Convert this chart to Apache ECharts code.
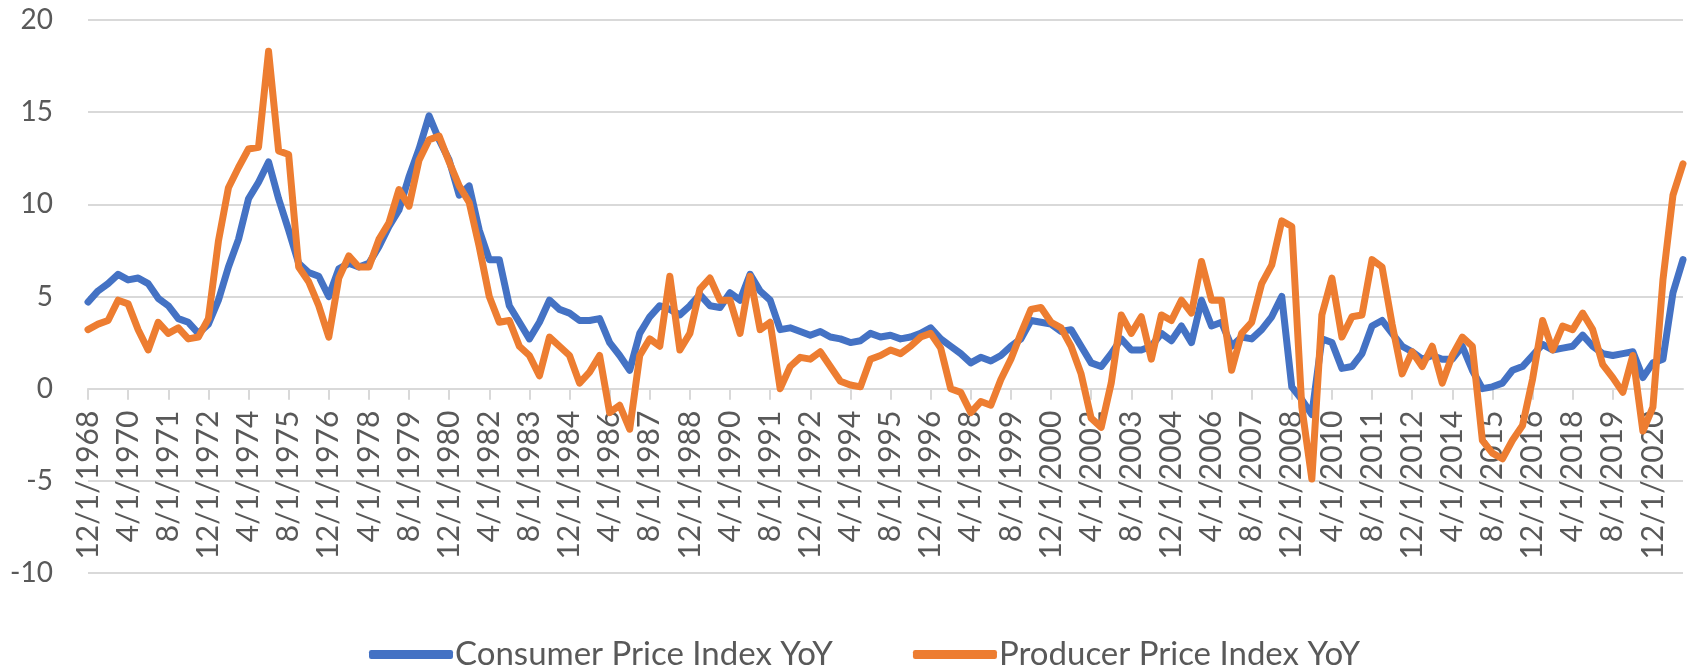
<!DOCTYPE html>
<html>
<head>
<meta charset="utf-8">
<script src="https://cdn.jsdelivr.net/npm/echarts@6/dist/echarts.min.js"></script>
<style>
  html, body { margin: 0; padding: 0; background: #fff; }
  #chart { width: 1688px; height: 666px; }
</style>
</head>
<body>
<div id="chart"></div>
<script>
// 日期（每4个月一个点）
var dates = [
    '12/1/1968',
    '4/1/1969','8/1/1969','12/1/1969','4/1/1970','8/1/1970','12/1/1970',
    '4/1/1971','8/1/1971','12/1/1971','4/1/1972','8/1/1972','12/1/1972',
    '4/1/1973','8/1/1973','12/1/1973','4/1/1974','8/1/1974','12/1/1974',
    '4/1/1975','8/1/1975','12/1/1975','4/1/1976','8/1/1976','12/1/1976',
    '4/1/1977','8/1/1977','12/1/1977','4/1/1978','8/1/1978','12/1/1978',
    '4/1/1979','8/1/1979','12/1/1979','4/1/1980','8/1/1980','12/1/1980',
    '4/1/1981','8/1/1981','12/1/1981','4/1/1982','8/1/1982','12/1/1982',
    '4/1/1983','8/1/1983','12/1/1983','4/1/1984','8/1/1984','12/1/1984',
    '4/1/1985','8/1/1985','12/1/1985','4/1/1986','8/1/1986','12/1/1986',
    '4/1/1987','8/1/1987','12/1/1987','4/1/1988','8/1/1988','12/1/1988',
    '4/1/1989','8/1/1989','12/1/1989','4/1/1990','8/1/1990','12/1/1990',
    '4/1/1991','8/1/1991','12/1/1991','4/1/1992','8/1/1992','12/1/1992',
    '4/1/1993','8/1/1993','12/1/1993','4/1/1994','8/1/1994','12/1/1994',
    '4/1/1995','8/1/1995','12/1/1995','4/1/1996','8/1/1996','12/1/1996',
    '4/1/1997','8/1/1997','12/1/1997','4/1/1998','8/1/1998','12/1/1998',
    '4/1/1999','8/1/1999','12/1/1999','4/1/2000','8/1/2000','12/1/2000',
    '4/1/2001','8/1/2001','12/1/2001','4/1/2002','8/1/2002','12/1/2002',
    '4/1/2003','8/1/2003','12/1/2003','4/1/2004','8/1/2004','12/1/2004',
    '4/1/2005','8/1/2005','12/1/2005','4/1/2006','8/1/2006','12/1/2006',
    '4/1/2007','8/1/2007','12/1/2007','4/1/2008','8/1/2008','12/1/2008',
    '4/1/2009','8/1/2009','12/1/2009','4/1/2010','8/1/2010','12/1/2010',
    '4/1/2011','8/1/2011','12/1/2011','4/1/2012','8/1/2012','12/1/2012',
    '4/1/2013','8/1/2013','12/1/2013','4/1/2014','8/1/2014','12/1/2014',
    '4/1/2015','8/1/2015','12/1/2015','4/1/2016','8/1/2016','12/1/2016',
    '4/1/2017','8/1/2017','12/1/2017','4/1/2018','8/1/2018','12/1/2018',
    '4/1/2019','8/1/2019','12/1/2019','4/1/2020','8/1/2020','12/1/2020',
    '4/1/2021','8/1/2021','12/1/2021'
];

// CPI 同比
var cpiYoY = [
    4.7,
    5.3, 5.7, 6.2, 5.9, 6.0, 5.7,
    4.9, 4.5, 3.8, 3.6, 3.0, 3.5,
    4.8, 6.6, 8.1, 10.3, 11.2, 12.3,
    10.3, 8.6, 6.8, 6.3, 6.1, 5.0,
    6.5, 6.8, 6.6, 6.8, 7.7, 8.8,
    9.7, 11.5, 13.0, 14.8, 13.5, 12.4,
    10.5, 11.0, 8.6, 7.0, 7.0, 4.5,
    3.6, 2.7, 3.6, 4.8, 4.3, 4.1,
    3.7, 3.7, 3.8, 2.5, 1.8, 1.0,
    3.0, 3.9, 4.5, 4.3, 4.0, 4.5,
    5.1, 4.5, 4.4, 5.2, 4.8, 6.2,
    5.3, 4.8, 3.2, 3.3, 3.1, 2.9,
    3.1, 2.8, 2.7, 2.5, 2.6, 3.0,
    2.8, 2.9, 2.7, 2.8, 3.0, 3.3,
    2.7, 2.3, 1.9, 1.4, 1.7, 1.5,
    1.8, 2.3, 2.7, 3.7, 3.6, 3.5,
    3.1, 3.2, 2.3, 1.4, 1.2, 1.9,
    2.7, 2.1, 2.1, 2.3, 3.0, 2.6,
    3.4, 2.5, 4.8, 3.4, 3.6, 2.3,
    2.8, 2.7, 3.2, 3.9, 5.0, 0.1,
    -0.6, -1.4, 2.7, 2.5, 1.1, 1.2,
    1.9, 3.4, 3.7, 3.0, 2.3, 2.0,
    1.6, 1.8, 1.6, 1.6, 2.3, 1.0,
    0.0, 0.1, 0.3, 1.0, 1.2, 1.8,
    2.4, 2.1, 2.2, 2.3, 2.9, 2.3,
    1.9, 1.8, 1.9, 2.0, 0.6, 1.4,
    1.6, 5.2, 7.0
];

// PPI 同比
var ppiYoY = [
    3.2,
    3.5, 3.7, 4.8, 4.6, 3.2, 2.1,
    3.6, 3.0, 3.3, 2.7, 2.8, 3.8,
    8.0, 10.9, 12.0, 13.0, 13.1, 18.3,
    12.9, 12.7, 6.6, 5.8, 4.5, 2.8,
    6.0, 7.2, 6.6, 6.6, 8.1, 9.0,
    10.8, 9.9, 12.4, 13.5, 13.7, 12.3,
    11.0, 10.1, 7.7, 5.0, 3.6, 3.7,
    2.3, 1.8, 0.7, 2.8, 2.3, 1.8,
    0.3, 0.9, 1.8, -1.3, -0.9, -2.2,
    1.8, 2.7, 2.3, 6.1, 2.1, 3.0,
    5.4, 6.0, 4.8, 4.8, 3.0, 6.1,
    3.2, 3.6, 0.0, 1.2, 1.7, 1.6,
    2.0, 1.2, 0.4, 0.2, 0.1, 1.6,
    1.8, 2.1, 1.9, 2.3, 2.8, 3.0,
    2.2, 0.0, -0.2, -1.3, -0.7, -0.9,
    0.5, 1.6, 3.0, 4.3, 4.4, 3.6,
    3.3, 2.3, 0.8, -1.6, -2.1, 0.3,
    4.0, 3.0, 3.9, 1.6, 4.0, 3.7,
    4.8, 4.1, 6.9, 4.8, 4.8, 1.0,
    3.0, 3.6, 5.7, 6.7, 9.1, 8.8,
    -1.0, -4.9, 4.0, 6.0, 2.8, 3.9,
    4.0, 7.0, 6.6, 3.5, 0.8, 2.0,
    1.2, 2.3, 0.3, 1.8, 2.8, 2.3,
    -2.8, -3.5, -3.8, -2.8, -2.0, 0.5,
    3.7, 2.1, 3.4, 3.2, 4.1, 3.2,
    1.3, 0.6, -0.2, 1.8, -2.3, -1.0,
    5.9, 10.5, 12.2
];

var seriesNames = ['Consumer Price Index YoY', 'Producer Price Index YoY'];
var seriesColors = ['#4472c4', '#ed7d31'];
var yTicks = { min: -10, max: 20, interval: 5 };

var fontFamily = 'Lato, "Open Sans", sans-serif';
var textColor = '#595959';
var gridColor = '#d9d9d9';

var gridTop = 20, gridBottom = 93, chartHeight = 666;
// x轴放在 0 的位置：从网格底部往上移
var plotH = chartHeight - gridTop - gridBottom;
var zeroOffset = -plotH * (0 - yTicks.min) / (yTicks.max - yTicks.min);

var chart = echarts.init(document.getElementById('chart'), null, { renderer: 'canvas' });

var option = {
    animation: false,
    backgroundColor: '#ffffff',
    grid: {
        left: 88,
        right: 5,
        top: gridTop,
        bottom: gridBottom,
        containLabel: false
    },
    legend: {
        left: 364,
        top: 633,
        itemWidth: 84,
        itemHeight: 9,
        itemGap: 80,
        icon: 'roundRect',
        data: seriesNames,
        textStyle: {
            fontFamily: fontFamily,
            fontSize: 33,
            color: textColor,
            padding: [0, 0, 0, -3]
        }
    },
    xAxis: {
        type: 'category',
        data: dates,
        boundaryGap: false,
        offset: zeroOffset,
        axisLine: {
            onZero: false,
            lineStyle: { color: gridColor, width: 2 }
        },
        axisTick: {
            show: true,
            interval: 3,
            length: 11,
            lineStyle: { color: gridColor, width: 2 }
        },
        axisLabel: {
            interval: 3,
            rotate: 90,
            align: 'right',
            verticalAlign: 'middle',
            margin: 22,
            fontFamily: fontFamily,
            fontSize: 30,
            color: textColor
        },
        splitLine: { show: false }
    },
    yAxis: {
        type: 'value',
        min: yTicks.min,
        max: yTicks.max,
        interval: yTicks.interval,
        axisLine: { show: false },
        axisTick: { show: false },
        axisLabel: {
            margin: 35,
            fontFamily: fontFamily,
            fontSize: 28,
            color: textColor
        },
        splitLine: {
            lineStyle: { color: gridColor, width: 2 }
        }
    },
    series: [{
        name: seriesNames[0],
        type: 'line',
        data: cpiYoY,
        showSymbol: false,
        lineStyle: { color: seriesColors[0], width: 7, join: 'round', cap: 'round' },
        itemStyle: { color: seriesColors[0] }
    }, {
        name: seriesNames[1],
        type: 'line',
        data: ppiYoY,
        showSymbol: false,
        lineStyle: { color: seriesColors[1], width: 7, join: 'round', cap: 'round' },
        itemStyle: { color: seriesColors[1] }
    }]
};

chart.setOption(option);
</script>
</body>
</html>
